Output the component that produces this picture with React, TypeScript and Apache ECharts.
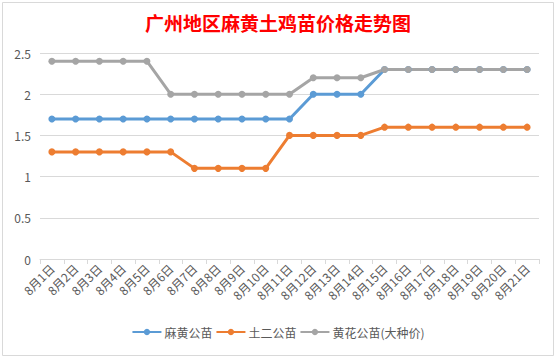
import React, { useEffect, useRef } from "react";
import * as echarts from "echarts";

const categories = [
  "8月1日", "8月2日", "8月3日", "8月4日", "8月5日", "8月6日", "8月7日",
  "8月8日", "8月9日", "8月10日", "8月11日", "8月12日", "8月13日", "8月14日",
  "8月15日", "8月16日", "8月17日", "8月18日", "8月19日", "8月20日", "8月21日",
];
const mahuang = [1.7, 1.7, 1.7, 1.7, 1.7, 1.7, 1.7, 1.7, 1.7, 1.7, 1.7, 2.0, 2.0, 2.0, 2.3, 2.3, 2.3, 2.3, 2.3, 2.3, 2.3];
const tuer = [1.3, 1.3, 1.3, 1.3, 1.3, 1.3, 1.1, 1.1, 1.1, 1.1, 1.5, 1.5, 1.5, 1.5, 1.6, 1.6, 1.6, 1.6, 1.6, 1.6, 1.6];
const huanghua = [2.4, 2.4, 2.4, 2.4, 2.4, 2.0, 2.0, 2.0, 2.0, 2.0, 2.0, 2.2, 2.2, 2.2, 2.3, 2.3, 2.3, 2.3, 2.3, 2.3, 2.3];
const seriesNames = ["麻黄公苗", "土二公苗", "黄花公苗(大种价)"];
const colors = ["#5b9bd5", "#ed7d31", "#a5a5a5"];

const FONT = "'Noto Sans CJK SC', 'Noto Sans', sans-serif";

export default function App() {
  const ref = useRef<HTMLDivElement>(null);
  useEffect(() => {
    if (!ref.current) return;
    const chart = echarts.init(ref.current, undefined, { renderer: "svg" });
    const data = [mahuang, tuer, huanghua];
    chart.setOption({
      animation: false,
      backgroundColor: "#ffffff",
      textStyle: { fontFamily: FONT },
      title: {
        text: "广州地区麻黄土鸡苗价格走势图",
        left: "center",
        top: 8,
        textStyle: { color: "#ff0000", fontSize: 19, fontWeight: "bold", fontFamily: FONT },
      },
      graphic: [
        {
          type: "rect",
          shape: { x: 2.5, y: 2.5, width: 551, height: 353 },
          style: { fill: "none", stroke: "#d9d9d9", lineWidth: 1 },
          silent: true,
        },
      ],
      legend: {
        bottom: 16,
        left: "center",
        itemWidth: 29,
        itemHeight: 8,
        itemGap: 3,
        textStyle: { color: "#595959", fontSize: 12, fontFamily: FONT, padding: [0, 0, 0, -2] },
        data: seriesNames,
      },
      grid: { left: 40, right: 17, top: 53, bottom: 100 },
      xAxis: {
        type: "category",
        data: categories,
        boundaryGap: true,
        axisLine: { lineStyle: { color: "#d9d9d9" } },
        axisTick: { show: true, length: 5, lineStyle: { color: "#d9d9d9" } },
        axisLabel: { rotate: 45, color: "#595959", fontSize: 12, margin: 7, interval: 0, fontFamily: FONT },
      },
      yAxis: {
        type: "value",
        min: 0,
        max: 2.5,
        interval: 0.5,
        axisLine: { show: false },
        axisTick: { show: false },
        splitLine: { lineStyle: { color: "#d9d9d9" } },
        axisLabel: { color: "#595959", fontSize: 12, margin: 9, fontFamily: FONT },
      },
      series: seriesNames.map((name, i) => ({
        name,
        type: "line",
        data: data[i],
        symbol: "circle",
        symbolSize: 7,
        lineStyle: { width: 3, color: colors[i] },
        itemStyle: { color: colors[i] },
      })),
    });
    return () => chart.dispose();
  }, []);
  return <div ref={ref} style={{ width: 556, height: 359, position: "absolute", left: 0, top: 0 }} />;
}
